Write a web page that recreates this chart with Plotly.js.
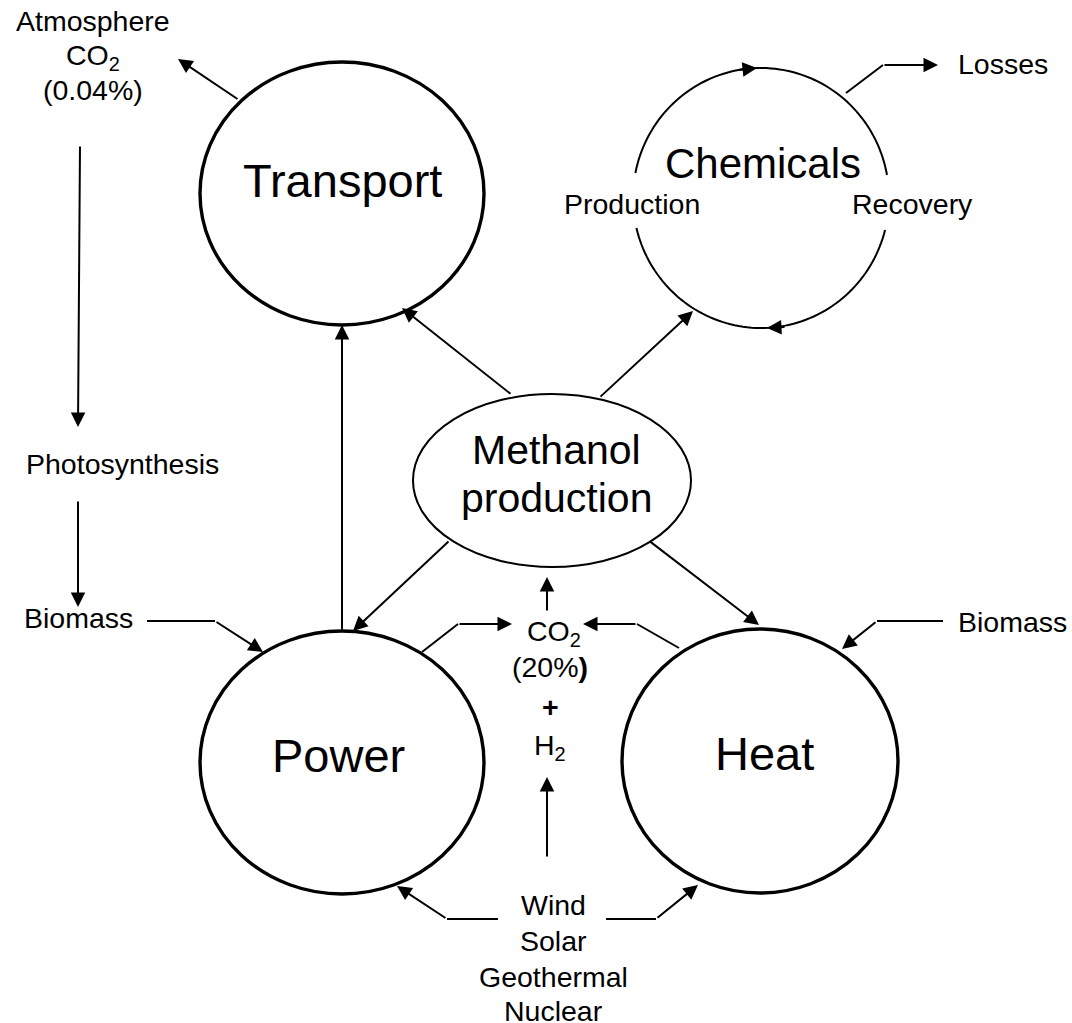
<!DOCTYPE html>
<html>
<head>
<meta charset="utf-8">
<script src="https://cdn.plot.ly/plotly-3.0.1.min.js"></script>
<style>html,body{margin:0;padding:0;background:#fff;}#chart{width:1072px;height:1023px;}</style>
</head>
<body>
<div id="chart"></div>
<script>
// ---- content ----
const nodeNames = ['Transport', 'Chemicals', 'Methanol', 'production', 'Power', 'Heat'];
const chemicalSteps = ['Production', 'Recovery'];
const atmosphereLines = ['Atmosphere', 'CO<sub>2</sub>', '(0.04%)'];
const carbonPathLabels = ['Photosynthesis', 'Biomass'];
const sideLabels = ['Biomass', 'Losses'];
const feedLines = ['CO<sub>2</sub>', '(20%<b>)</b>', '<b>+</b>', 'H<sub>2</sub>'];
const energySources = ['Wind', 'Solar', 'Geothermal', 'Nuclear'];

// ---- geometry (pixel space of the drawing) ----
const W = 1072, H = 1023;
const FONT = 'Liberation Sans, Arial, Helvetica, sans-serif';
const bigCircles = [ // Transport, Power, Heat
  {x0: 200, x1: 484, y0: 62, y1: 325},
  {x0: 200, x1: 484, y0: 631, y1: 894},
  {x0: 622, x1: 898, y0: 629, y1: 893}
];
const methanolEllipse = {x0: 413, x1: 691, y0: 394, y1: 567};
const chem = {cx: 761, cy: 198, rx: 128, ry: 130};

const nodeLabelPos = [
  [342, 180, 47], [763, 163, 42], [556, 450, 41], [556, 498, 41], [338, 755, 47], [764, 753, 47]
];
const chemStepPos = [[632, 204], [912, 204]];
const atmPos = [[93, 21], [93, 57], [93, 90]];
const carbonPos = [[122, 464], [78, 618]];
const sidePos = [[1012, 622], [1003, 64]];
const feedPos = [[554, 633], [550, 667], [550, 707], [550, 747]];
const srcPos = [[553, 905], [553, 941], [553, 977], [553, 1011]];

const arrows = [
  [[239, 100], [178, 59]],
  [[80, 145], [78, 427]],
  [[78, 500], [78, 607]],
  [[147, 621], [215, 621], [263, 652]],
  [[342, 631], [342, 325]],
  [[512, 395], [402, 308]],
  [[599, 398], [693, 311]],
  [[450, 540], [353, 631]],
  [[648, 540], [759, 625]],
  [[547, 612], [547, 577]],
  [[422, 652], [458, 624], [512, 624]],
  [[679, 648], [637, 624], [583, 624]],
  [[547, 858], [547, 777]],
  [[498, 919], [447, 919], [397, 886]],
  [[606, 919], [656, 919], [698, 885]],
  [[943, 621], [877, 621], [842, 649]],
  [[846, 93], [883, 65], [938, 65]]
];

function arcPath(c, t0, t1, n) {
  let s = '';
  for (let i = 0; i <= n; i++) {
    const t = t0 + (t1 - t0) * i / n;
    const x = c.cx + c.rx * Math.cos(t), y = c.cy + c.ry * Math.sin(t);
    s += (i === 0 ? 'M' : 'L') + x.toFixed(2) + ',' + y.toFixed(2);
  }
  return s;
}

const shapes = [];
bigCircles.forEach(c => shapes.push({type: 'circle', xref: 'x', yref: 'y', x0: c.x0, x1: c.x1, y0: c.y0, y1: c.y1, line: {color: '#000', width: 3.4}}));
shapes.push({type: 'circle', xref: 'x', yref: 'y', x0: methanolEllipse.x0, x1: methanolEllipse.x1, y0: methanolEllipse.y0, y1: methanolEllipse.y1, line: {color: '#000', width: 2}});
shapes.push({type: 'path', xref: 'x', yref: 'y', path: arcPath(chem, Math.PI + 0.194, 2 * Math.PI - 0.178, 80), line: {color: '#000', width: 2}});
shapes.push({type: 'path', xref: 'x', yref: 'y', path: arcPath(chem, 0.249, Math.PI - 0.233, 80), line: {color: '#000', width: 2}});

const annotations = [];
arrows.forEach(pts => {
  if (pts.length > 2) {
    let p = 'M' + pts[0][0] + ',' + pts[0][1];
    for (let i = 1; i < pts.length - 1; i++) p += 'L' + pts[i][0] + ',' + pts[i][1];
    shapes.push({type: 'path', xref: 'x', yref: 'y', path: p, line: {color: '#000', width: 2}});
  }
  const a = pts[pts.length - 2], b = pts[pts.length - 1];
  annotations.push({x: b[0], y: b[1], ax: a[0], ay: a[1], xref: 'x', yref: 'y', axref: 'x', ayref: 'y',
    text: '', showarrow: true, arrowhead: 2, arrowsize: 1.45, arrowwidth: 2, arrowcolor: '#000', standoff: 0, startstandoff: 0});
});
// arrowheads on the chemicals cycle
annotations.push({x: 757, y: 68, ax: 738, ay: 70, xref: 'x', yref: 'y', axref: 'x', ayref: 'y', text: '', showarrow: true, arrowhead: 2, arrowsize: 1.45, arrowwidth: 2, arrowcolor: '#000', standoff: 0});
annotations.push({x: 767, y: 328, ax: 786, ay: 327, xref: 'x', yref: 'y', axref: 'x', ayref: 'y', text: '', showarrow: true, arrowhead: 2, arrowsize: 1.45, arrowwidth: 2, arrowcolor: '#000', standoff: 0});

function label(text, x, y, size) {
  annotations.push({x: x, y: y, xref: 'x', yref: 'y', text: text, showarrow: false, xanchor: 'center', yanchor: 'middle',
    font: {family: FONT, size: size, color: '#000'}});
}
nodeNames.forEach((t, i) => label(t, nodeLabelPos[i][0], nodeLabelPos[i][1], nodeLabelPos[i][2]));
chemicalSteps.forEach((t, i) => label(t, chemStepPos[i][0], chemStepPos[i][1], 28.5));
atmosphereLines.forEach((t, i) => label(t, atmPos[i][0], atmPos[i][1], 28.5));
carbonPathLabels.forEach((t, i) => label(t, carbonPos[i][0], carbonPos[i][1], 28.5));
sideLabels.forEach((t, i) => label(t, sidePos[i][0], sidePos[i][1], 28.5));
feedLines.forEach((t, i) => label(t, feedPos[i][0], feedPos[i][1], 28.5));
energySources.forEach((t, i) => label(t, srcPos[i][0], srcPos[i][1], 28.5));

const layout = {
  width: W, height: H,
  margin: {l: 0, r: 0, t: 0, b: 0, pad: 0},
  paper_bgcolor: '#fff', plot_bgcolor: '#fff',
  xaxis: {range: [0, W], visible: false, fixedrange: true},
  yaxis: {range: [H, 0], visible: false, fixedrange: true},
  showlegend: false,
  shapes: shapes,
  annotations: annotations
};
Plotly.newPlot('chart', [{x: [], y: [], type: 'scatter', hoverinfo: 'skip'}], layout, {displayModeBar: false, staticPlot: true});
</script>
</body>
</html>
